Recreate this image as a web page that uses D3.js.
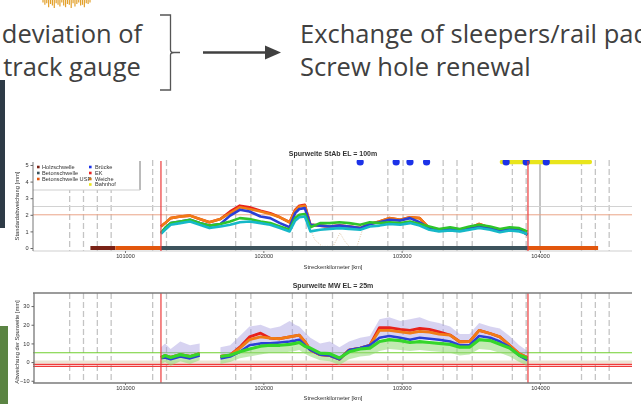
<!DOCTYPE html>
<html>
<head>
<meta charset="utf-8">
<script src="https://cdn.jsdelivr.net/npm/d3@7"></script>
<style>
  html, body { margin: 0; padding: 0; background: #fff; }
  svg { display: block; }
</style>
</head>
<body>
<svg id="chart" width="641" height="404"></svg>
<script>
// ---------------- data ----------------
// chainage of the measurement stations (m)
const stations = [101260,101290,101330,101400,101470,101540,101610,101690,101760,101830,101900,101980,102050,102120,102190,102230,102260,102300,102340,102410,102480,102550,102620,102700,102770,102840,102910,102990,103060,103130,103200,103270,103350,103420,103490,103560,103640,103710,103780,103850,103910];

// standard deviation of track gauge, window 100 m (mm), one array per measurement run
const stabRed    = [1.3,1.5,1.8,1.9,1.95,1.75,1.55,1.75,2.2,2.55,2.45,2.25,2.1,1.85,1.55,2.3,2.55,2.6,1.4,1.35,1.3,1.35,1.3,1.2,1.45,1.6,1.8,1.7,1.85,1.8,1.2,1.05,1.15,1.05,1.2,1.45,1.2,1.05,1.15,1.1,0.8];
const stabOrange = [1.3,1.5,1.8,1.9,1.95,1.75,1.55,1.75,2.1,2.45,2.35,2.2,2.05,1.85,1.55,2.25,2.5,2.55,1.4,1.35,1.3,1.35,1.3,1.2,1.45,1.6,1.8,1.7,1.85,1.8,1.2,1.05,1.15,1.05,1.2,1.45,1.2,1.05,1.15,1.1,0.8];
const stabBlue   = [0.9,1.2,1.5,1.6,1.7,1.5,1.35,1.45,1.95,2.3,2.2,1.9,1.8,1.5,1.25,2.1,2.35,2.4,1.4,1.35,1.3,1.35,1.3,1.2,1.45,1.55,1.7,1.65,1.8,1.55,1.2,1.05,1.15,1.05,1.2,1.3,1.2,1.05,1.15,1.1,0.8];
const stabGreen  = [0.9,1.2,1.5,1.6,1.7,1.5,1.35,1.45,1.6,1.8,1.75,1.6,1.5,1.3,1.1,1.8,2.0,2.05,1.25,1.5,1.5,1.55,1.5,1.4,1.55,1.5,1.55,1.5,1.6,1.45,1.3,1.15,1.25,1.15,1.3,1.4,1.3,1.15,1.25,1.2,1.0];
const stabCyan   = [0.85,1.1,1.4,1.5,1.6,1.4,1.2,1.3,1.4,1.55,1.6,1.5,1.4,1.2,1.0,1.65,1.85,1.9,1.0,1.1,1.15,1.2,1.15,1.1,1.3,1.35,1.45,1.4,1.5,1.35,1.1,1.0,1.05,1.0,1.1,1.2,1.1,0.95,1.05,1.0,0.85];

// deviation of mean track gauge, window 25 m (mm)
const mwRed    = [2.5,3.5,2.5,4,3,4.5,null,3,3.7,8,13.5,15.5,12.8,12.5,13.5,14,14.4,11,6.5,4,3.5,1.5,6.4,7.5,9,18.5,18.5,17.5,17,18,17.5,16.2,14.5,10.9,11,17,15.3,13.5,9,4.5,2.5];
const mwOrange = [2.5,3.5,2.5,4,3,4.5,null,3,3.7,7.5,12,13.5,12.8,12.5,13.5,14,14.4,11,6.5,4,3.5,1.5,6.4,7.5,9,17,17,16.2,15.5,16.5,16,15,14.4,10.9,11,17,15.3,13.5,9,4.5,2.5];
const mwBlue   = [2,2.5,1.5,3,2,3.5,null,2,3,5.5,9,10,10,10.5,11,11.5,12,9,6.5,4,3.5,1.5,6.4,7.5,9,13,14,13,12,13,12.5,12,11,9,9,14,13,11,8,3.5,1.1];
const mwGreen  = [2.5,3.5,2.5,4,3,4.5,null,3,3.7,5.5,7,8.5,9,9,9.5,10,10.5,8.5,7.5,4.8,4.5,2.2,5.5,7,7.5,11,12,11.5,10.5,11,10.5,10,9.5,8,8,12,11.5,9.5,7.5,3.7,2.1];
const mwUpper  = [8,10,7,11,9,10,null,8,9,14,19,20,18,19,22,20,19,16,13,10,11,8,11,13,14,23,24,22,23,24,22,21,19,15,15,21,19,18,14,9,6];
const mwLower  = [-1,0,-2,0.5,-1,1,null,-1,0,2,3,4,5,5,5.5,6,6.5,4.5,3,1,0.5,-1.5,1.5,3,3.5,6,7,6.5,6,6.5,6,5.5,5,3.5,4,7,6.5,5,3,0,-2];

// switch section trace (chainage m, mm)
const switchTrace = [[102336,1.2],[102372,0.5],[102425,0.1],[102504,0.1],[102554,0.9],[102590,0.4],[102626,0.05],[102677,0.1],[102713,1.0]];

const kmTicks   = [101000, 102000, 103000, 104000];
const stabTicks = [0, 1, 2, 3, 4, 5];
const mwTicks   = [-10, 0, 10, 20, 30];

// sleeper type along the line
const sleepers = [
  { from: 100750, to: 100930, type: "Holzschwelle" },
  { from: 100930, to: 101260, type: "Betonschwelle USP" },
  { from: 101260, to: 103913, type: "Betonschwelle" },
  { from: 103913, to: 104420, type: "Betonschwelle USP" }
];
const bridges   = [102700, 102960, 103060, 103180, 103755, 103900, 104045];
const stationAreas = [[103725, 104360]];
const sectionLimits = [101260, 103913];
const structureKm = [100600,100700,100800,100900,101200,101300,101800,101910,102210,102310,102500,102900,103010,103300,103400,103510,103800,103900,104300,104400,104500];

const legendLeft  = ["Holzschwelle", "Betonschwelle", "Betonschwelle USP"];
const legendRight = ["Brücke", "EK", "Weiche", "Bahnhof"];

const stabLimits = { warn: 2.0, grid: 2.5 };
const mwLimits = { upper: 5, zero: 0, lowA: -1.2, lowB: -2.3 };

// decorative signal trace at the upper edge
const signalTrace = [0.3,0.6,0.4,0.9,0.5,0.7,1.0,0.4,0.6,0.8,0.3,0.7,0.9,0.5,0.6,1.0,0.4,0.8,0.5,0.3,0.7,0.6,0.9,0.4,0.5,0.3];

// ---------------- styles ----------------
const colors = {
  red: "#e8201c", orange: "#f07c12", blue: "#2a3fd6", green: "#2fc42a", cyan: "#19b8c8",
  Holzschwelle: "#7a2412", Betonschwelle: "#3c535c", "Betonschwelle USP": "#e2570f",
  Brücke: "#1a32e8", EK: "#e82020", Weiche: "#cc7a22", Bahnhof: "#e9e51e"
};
const textColor = "#404040";

const svg = d3.select("#chart");
const defs = svg.append("defs");

// ---------------- slide text ----------------
const sig = svg.append("g");
const sx = d3.scaleLinear().domain([0, signalTrace.length - 1]).range([43, 90]);
const sy = d3.scaleLinear().domain([0, 1]).range([0, 8]);
sig.selectAll("line").data(signalTrace).join("line")
  .attr("x1", (d, i) => sx(i)).attr("x2", (d, i) => sx(i))
  .attr("y1", 0).attr("y2", d => sy(d))
  .attr("stroke", "#e3a02a").attr("stroke-width", 1.2);

const txt = svg.append("g").attr("font-family", "'Open Sans', sans-serif")
  .attr("font-size", 25.5).attr("fill", textColor);
txt.append("text").attr("x", 72).attr("y", 43).attr("text-anchor", "middle").text("deviation of");
txt.append("text").attr("x", 72).attr("y", 76).attr("text-anchor", "middle").text("track gauge");
txt.append("text").attr("x", 300).attr("y", 43).text("Exchange of sleepers/rail pad");
txt.append("text").attr("x", 300).attr("y", 76).text("Screw hole renewal");

// curly bracket and arrow
svg.append("path")
  .attr("d", "M160,15 H170.5 V50 Q170.5,52.5 174,52.5 H180 M174,52.5 Q170.5,52.5 170.5,55 V90 H160")
  .attr("fill", "none").attr("stroke", "#555").attr("stroke-width", 1.3);
svg.append("line").attr("x1", 203).attr("x2", 268).attr("y1", 52.5).attr("y2", 52.5)
  .attr("stroke", textColor).attr("stroke-width", 2.6);
svg.append("path").attr("d", "M265,45.5 L281,52.5 L265,59.5 Z").attr("fill", textColor);

// side panels of the slide
svg.append("rect").attr("x", 0).attr("y", 80).attr("width", 5).attr("height", 148).attr("fill", "#2e3b47");
svg.append("rect").attr("x", 0).attr("y", 326).attr("width", 8).attr("height", 78).attr("fill", "#5b8443");

// ---------------- shared scale ----------------
const x = d3.scaleLinear().domain([100335, 104665]).range([33, 632]);
const plotL = 33, plotR = 632;
const fontChart = "'Liberation Sans', Arial, sans-serif";

const soft = defs.append("filter").attr("id", "soft");
soft.append("feGaussianBlur").attr("stdDeviation", 0.4);

// ================= upper chart: StAb =================
const yS = d3.scaleLinear().domain([-0.18, 5.3]).range([251, 160]);
const gTop = svg.append("g").attr("filter", "url(#soft)").attr("font-family", fontChart);

defs.append("clipPath").attr("id", "clipTop")
  .append("rect").attr("x", plotL).attr("y", 160).attr("width", plotR - plotL).attr("height", 91);

gTop.append("g").selectAll("line").data(structureKm).join("line")
  .attr("x1", d => x(d)).attr("x2", d => x(d)).attr("y1", 160).attr("y2", 251)
  .attr("stroke", "#c4c4c4").attr("stroke-width", 1.3).attr("stroke-dasharray", "6,3");
gTop.append("line").attr("x1", x(104000)).attr("x2", x(104000)).attr("y1", 160).attr("y2", 251)
  .attr("stroke", "#8a8a8a").attr("stroke-width", 1);

gTop.append("line").attr("x1", plotL).attr("x2", plotR).attr("y1", yS(stabLimits.grid)).attr("y2", yS(stabLimits.grid))
  .attr("stroke", "#d2d2d2").attr("stroke-width", 1);
gTop.append("line").attr("x1", plotL).attr("x2", plotR).attr("y1", yS(stabLimits.warn)).attr("y2", yS(stabLimits.warn))
  .attr("stroke", "#eaa487").attr("stroke-width", 1);
gTop.append("line").attr("x1", plotL).attr("x2", plotR).attr("y1", 251).attr("y2", 251)
  .attr("stroke", "#cfcfcf").attr("stroke-width", 1);

// legend box
const lg = gTop.append("g");
lg.append("rect").attr("x", plotL).attr("y", 160).attr("width", 107).attr("height", 30).attr("fill", "#fff");
lg.append("line").attr("x1", 140).attr("x2", 140).attr("y1", 161).attr("y2", 190).attr("stroke", "#777").attr("stroke-width", 1);
lg.append("line").attr("x1", plotL).attr("x2", 140).attr("y1", 190).attr("y2", 190).attr("stroke", "#cfcfcf").attr("stroke-width", 1);
const rowY = [167, 173, 179, 184.5];
legendLeft.forEach((name, i) => {
  lg.append("rect").attr("x", 37).attr("y", rowY[i] - 1.3).attr("width", 2.6).attr("height", 2.6).attr("fill", colors[name]);
  lg.append("text").attr("x", 42).attr("y", rowY[i] + 1.9).attr("font-size", 5.6).attr("fill", "#333").text(name);
});
legendRight.forEach((name, i) => {
  lg.append("rect").attr("x", 89).attr("y", rowY[i] - 1.3).attr("width", 2.6).attr("height", 2.6).attr("fill", colors[name]);
  lg.append("text").attr("x", 95).attr("y", rowY[i] + 1.9).attr("font-size", 5.6).attr("fill", "#333").text(name);
});

// measurement runs
const plotTop = gTop.append("g").attr("clip-path", "url(#clipTop)");
plotTop.append("path").datum(switchTrace)
  .attr("d", d3.line().x(d => x(d[0])).y(d => yS(d[1])))
  .attr("fill", "none").attr("stroke", "#d6b58a").attr("stroke-width", 0.8).attr("stroke-dasharray", "1,1.5");

const stabSeries = [
  { v: stabRed, c: colors.red }, { v: stabOrange, c: colors.orange },
  { v: stabBlue, c: colors.blue }, { v: stabGreen, c: colors.green }, { v: stabCyan, c: colors.cyan }
];
const lineS = d3.line().defined(d => d[1] != null).x(d => x(d[0])).y(d => yS(d[1]));
stabSeries.forEach(s => {
  plotTop.append("path").datum(stations.map((k, i) => [k, s.v[i]]))
    .attr("d", lineS).attr("fill", "none").attr("stroke", s.c)
    .attr("stroke-width", 2.6).attr("stroke-linejoin", "round");
});

// sleeper type bars
plotTop.selectAll("line.sl").data(sleepers).join("line").attr("class", "sl")
  .attr("x1", d => x(d.from)).attr("x2", d => x(d.to)).attr("y1", yS(0)).attr("y2", yS(0))
  .attr("stroke", d => colors[d.type]).attr("stroke-width", 4);

// stations and bridges along the upper edge
plotTop.selectAll("line.st").data(stationAreas).join("line").attr("class", "st")
  .attr("x1", d => x(d[0])).attr("x2", d => x(d[1])).attr("y1", yS(5.18)).attr("y2", yS(5.18))
  .attr("stroke", colors.Bahnhof).attr("stroke-width", 4.5).attr("stroke-linecap", "round");
plotTop.selectAll("circle").data(bridges).join("circle")
  .attr("cx", d => x(d)).attr("cy", yS(5.18)).attr("r", 3.6).attr("fill", colors.Brücke);

// section limits
gTop.selectAll("line.lim").data(sectionLimits).join("line").attr("class", "lim")
  .attr("x1", d => x(d)).attr("x2", d => x(d)).attr("y1", 161).attr("y2", 251)
  .attr("stroke", "#ec3b3b").attr("stroke-width", 1.2);

// axes
const axL = gTop.append("g").attr("transform", `translate(${plotL},0)`)
  .call(d3.axisLeft(yS).tickValues(stabTicks).tickFormat(d3.format("d")).tickSize(2.5).tickPadding(2));
axL.select(".domain").attr("d", `M0,162V251`).attr("stroke", "#777");
axL.selectAll("text").attr("font-size", 5.6).attr("fill", "#333");
axL.selectAll(".tick line").attr("stroke", "#666");
const axB = gTop.append("g").attr("transform", "translate(0,251)")
  .call(d3.axisBottom(x).tickValues(kmTicks).tickFormat(d3.format("d")).tickSize(2).tickPadding(1.5));
axB.select(".domain").remove();
axB.selectAll("text").attr("font-size", 5.6).attr("fill", "#333");
axB.selectAll(".tick line").attr("stroke", "#777");

gTop.append("text").attr("x", 333).attr("y", 155.5).attr("text-anchor", "middle")
  .attr("font-size", 7).attr("font-weight", "bold").attr("fill", "#333").text("Spurweite StAb EL = 100m");
gTop.append("text").attr("x", 333).attr("y", 269).attr("text-anchor", "middle")
  .attr("font-size", 5.8).attr("fill", "#333").text("Streckenkilometer [km]");
gTop.append("text").attr("transform", "translate(19,206) rotate(-90)").attr("text-anchor", "middle")
  .attr("font-size", 5.8).attr("fill", "#333").text("Standardabweichung [mm]");

// ================= lower chart: MW =================
const yM = d3.scaleLinear().domain([-11.2, 37]).range([383, 293]);
const gBot = svg.append("g").attr("filter", "url(#soft)").attr("font-family", fontChart);
defs.append("clipPath").attr("id", "clipBot")
  .append("rect").attr("x", plotL).attr("y", 293).attr("width", plotR - plotL).attr("height", 90);

gBot.append("g").selectAll("line").data(structureKm.concat([104000])).join("line")
  .attr("x1", d => x(d)).attr("x2", d => x(d)).attr("y1", 293).attr("y2", 383)
  .attr("stroke", "#c4c4c4").attr("stroke-width", 1.3).attr("stroke-dasharray", "6,3");

const hline = (v, c, w) => gBot.append("line").attr("x1", plotL).attr("x2", plotR)
  .attr("y1", yM(v)).attr("y2", yM(v)).attr("stroke", c).attr("stroke-width", w);
hline(mwLimits.zero, "#ece3d4", 3);
hline(mwLimits.upper, "#6fcf2c", 1.1);
hline(mwLimits.lowA, "#ef3a3a", 1.1);
hline(mwLimits.lowB, "#ef3a3a", 1.1);

const plotBot = gBot.append("g").attr("clip-path", "url(#clipBot)");
const rows = stations.map((k, i) => ({ k, up: mwUpper[i], lo: mwLower[i], b: mwBlue[i], g: mwGreen[i] }));
plotBot.append("path").datum(rows)
  .attr("d", d3.area().defined(d => d.up != null).x(d => x(d.k)).y0(d => yM(d.b)).y1(d => yM(d.up)))
  .attr("fill", "#a79ee0").attr("opacity", 0.45);
plotBot.append("path").datum(rows)
  .attr("d", d3.area().defined(d => d.lo != null).x(d => x(d.k)).y0(d => yM(d.lo)).y1(d => yM(d.g)))
  .attr("fill", "#8fd873").attr("opacity", 0.55);

const mwSeries = [
  { v: mwRed, c: colors.red, w: 2.8 }, { v: mwOrange, c: colors.orange, w: 2.8 },
  { v: mwBlue, c: colors.blue, w: 2.6 }, { v: mwGreen, c: "#36d62c", w: 3.2 }
];
const lineM = d3.line().defined(d => d[1] != null).x(d => x(d[0])).y(d => yM(d[1]));
mwSeries.forEach(s => {
  plotBot.append("path").datum(stations.map((k, i) => [k, s.v[i]]))
    .attr("d", lineM).attr("fill", "none").attr("stroke", s.c)
    .attr("stroke-width", s.w).attr("stroke-linejoin", "round");
});

gBot.selectAll("line.lim").data(sectionLimits).join("line").attr("class", "lim")
  .attr("x1", d => x(d)).attr("x2", d => x(d)).attr("y1", 293).attr("y2", 383)
  .attr("stroke", "#ec3b3b").attr("stroke-width", 1.2);

// frame
gBot.append("line").attr("x1", plotL).attr("x2", plotR).attr("y1", 293).attr("y2", 293).attr("stroke", "#7a7a7a").attr("stroke-width", 1.5);
gBot.append("line").attr("x1", plotL).attr("x2", plotR).attr("y1", 383).attr("y2", 383).attr("stroke", "#7a7a7a").attr("stroke-width", 1.5);

const axL2 = gBot.append("g").attr("transform", `translate(${plotL + 1},0)`)
  .call(d3.axisLeft(yM).tickValues(mwTicks).tickFormat(d3.format("d")).tickSize(2.5).tickPadding(2));
axL2.select(".domain").attr("d", "M0,293V383").attr("stroke", "#777").attr("stroke-width", 1.3);
axL2.selectAll("text").attr("font-size", 5.6).attr("fill", "#333");
axL2.selectAll(".tick line").attr("stroke", "#666");
const axB2 = gBot.append("g").attr("transform", "translate(0,383)")
  .call(d3.axisBottom(x).tickValues(kmTicks).tickFormat(d3.format("d")).tickSize(2).tickPadding(1.5));
axB2.select(".domain").remove();
axB2.selectAll("text").attr("font-size", 5.6).attr("fill", "#333");
axB2.selectAll(".tick line").attr("stroke", "#777");

gBot.append("text").attr("x", 333).attr("y", 288).attr("text-anchor", "middle")
  .attr("font-size", 7).attr("font-weight", "bold").attr("fill", "#333").text("Spurweite MW EL = 25m");
gBot.append("text").attr("x", 333).attr("y", 400).attr("text-anchor", "middle")
  .attr("font-size", 5.8).attr("fill", "#333").text("Streckenkilometer [km]");
gBot.append("text").attr("transform", "translate(19,342) rotate(-90)").attr("text-anchor", "middle")
  .attr("font-size", 5.8).attr("fill", "#333").text("Abweichung der Spurweite [mm]");
</script>
</body>
</html>
